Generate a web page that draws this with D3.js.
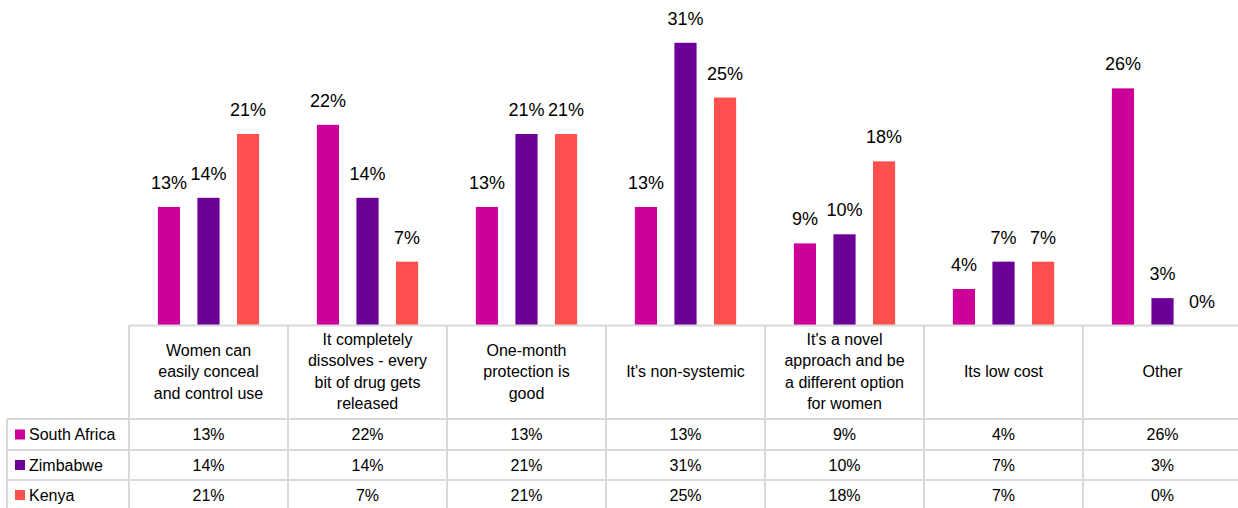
<!DOCTYPE html>
<html>
<head>
<meta charset="utf-8">
<script src="https://cdn.jsdelivr.net/npm/d3@7"></script>
<style>
  body { margin: 0; background: #fff; }
  svg { display: block; font-family: "Liberation Sans", Arial, sans-serif; }
</style>
</head>
<body>
<svg></svg>
<script>
// categories, wrapped the way the table header shows them
const categories = [
  ['Women can', 'easily conceal', 'and control use'],
  ['It completely', 'dissolves - every', 'bit of drug gets', 'released'],
  ['One-month', 'protection is', 'good'],
  ["It's non-systemic"],
  ["It's a novel", 'approach and be', 'a different option', 'for women'],
  ['Its low cost'],
  ['Other']
];
const series = ['South Africa', 'Zimbabwe', 'Kenya'];
const southAfrica = [13, 22, 13, 13, 9, 4, 26];
const zimbabwe = [14, 14, 21, 31, 10, 7, 3];
const kenya = [21, 7, 21, 25, 18, 7, 0];
const colors = ['#cc0099', '#6a0096', '#ff5050'];

const values = [southAfrica, zimbabwe, kenya];
const width = 1238, height = 508;

const svg = d3.select('svg')
  .attr('width', width)
  .attr('height', height);

const tableLeft = 129;
const baseY = 325.5;
const headerBottom = 419;
const rowTops = [419, 450, 480, 510];

// SCALES
const x = d3.scaleBand()
  .domain(d3.range(categories.length))
  .range([tableLeft, tableLeft + 159 * 7]);

const xInner = d3.scaleBand()
  .domain(series)
  .range([0, x.bandwidth()])
  .paddingInner(0.44)
  .paddingOuter(0.73);

const y = d3.scaleLinear()
  .domain([0, 35])
  .range([baseY, baseY - 35 * 9.12]);

// BARS
const groups = svg.append('g')
  .selectAll('g')
  .data(series)
  .enter().append('g')
  .attr('fill', (s, i) => colors[i]);

groups.selectAll('rect')
  .data((s, i) => values[i].map((v, j) => ({ s, v, j })))
  .enter().append('rect')
  .attr('x', d => x(d.j) + xInner(d.s))
  .attr('width', xInner.bandwidth())
  .attr('y', d => y(d.v))
  .attr('height', d => y(0) - y(d.v));

groups.selectAll('text')
  .data((s, i) => values[i].map((v, j) => ({ s, v, j })))
  .enter().append('text')
  .attr('x', d => x(d.j) + xInner(d.s) + xInner.bandwidth() / 2)
  .attr('y', d => y(d.v) - 18)
  .attr('text-anchor', 'middle')
  .attr('font-size', 18)
  .attr('fill', '#000')
  .text(d => d.v + '%');

// DATA TABLE
const grid = svg.append('g')
  .attr('stroke', '#d9d9d9')
  .attr('stroke-width', 2);

grid.append('line')
  .attr('x1', tableLeft).attr('x2', width)
  .attr('y1', baseY).attr('y2', baseY);

rowTops.slice(0, 3).forEach(t => {
  grid.append('line')
    .attr('x1', 7).attr('x2', width)
    .attr('y1', t).attr('y2', t);
});

grid.append('line')
  .attr('x1', 7).attr('x2', 7)
  .attr('y1', headerBottom).attr('y2', height);

d3.range(categories.length).forEach(j => {
  grid.append('line')
    .attr('x1', x(j)).attr('x2', x(j))
    .attr('y1', baseY).attr('y2', height);
});

// header text
const header = svg.append('g')
  .attr('font-size', 16)
  .attr('fill', '#000')
  .attr('text-anchor', 'middle');

categories.forEach((lines, j) => {
  const t = header.append('text');
  lines.forEach((line, k) => {
    t.append('tspan')
      .attr('x', x(j) + x.bandwidth() / 2)
      .attr('y', 377 + (k - (lines.length - 1) / 2) * 21.5)
      .text(line);
  });
});

// value rows with legend keys
series.forEach((s, i) => {
  const cy = (rowTops[i] + rowTops[i + 1]) / 2;
  svg.append('rect')
    .attr('x', 15).attr('y', cy - 5)
    .attr('width', 10).attr('height', 10)
    .attr('fill', colors[i]);
  svg.append('text')
    .attr('x', 29).attr('y', cy + 5.5)
    .attr('font-size', 16)
    .text(s);
  svg.append('g')
    .selectAll('text')
    .data(values[i])
    .enter().append('text')
    .attr('x', (v, j) => x(j) + x.bandwidth() / 2)
    .attr('y', cy + 5.5)
    .attr('text-anchor', 'middle')
    .attr('font-size', 16)
    .text(v => v + '%');
});
</script>
</body>
</html>
